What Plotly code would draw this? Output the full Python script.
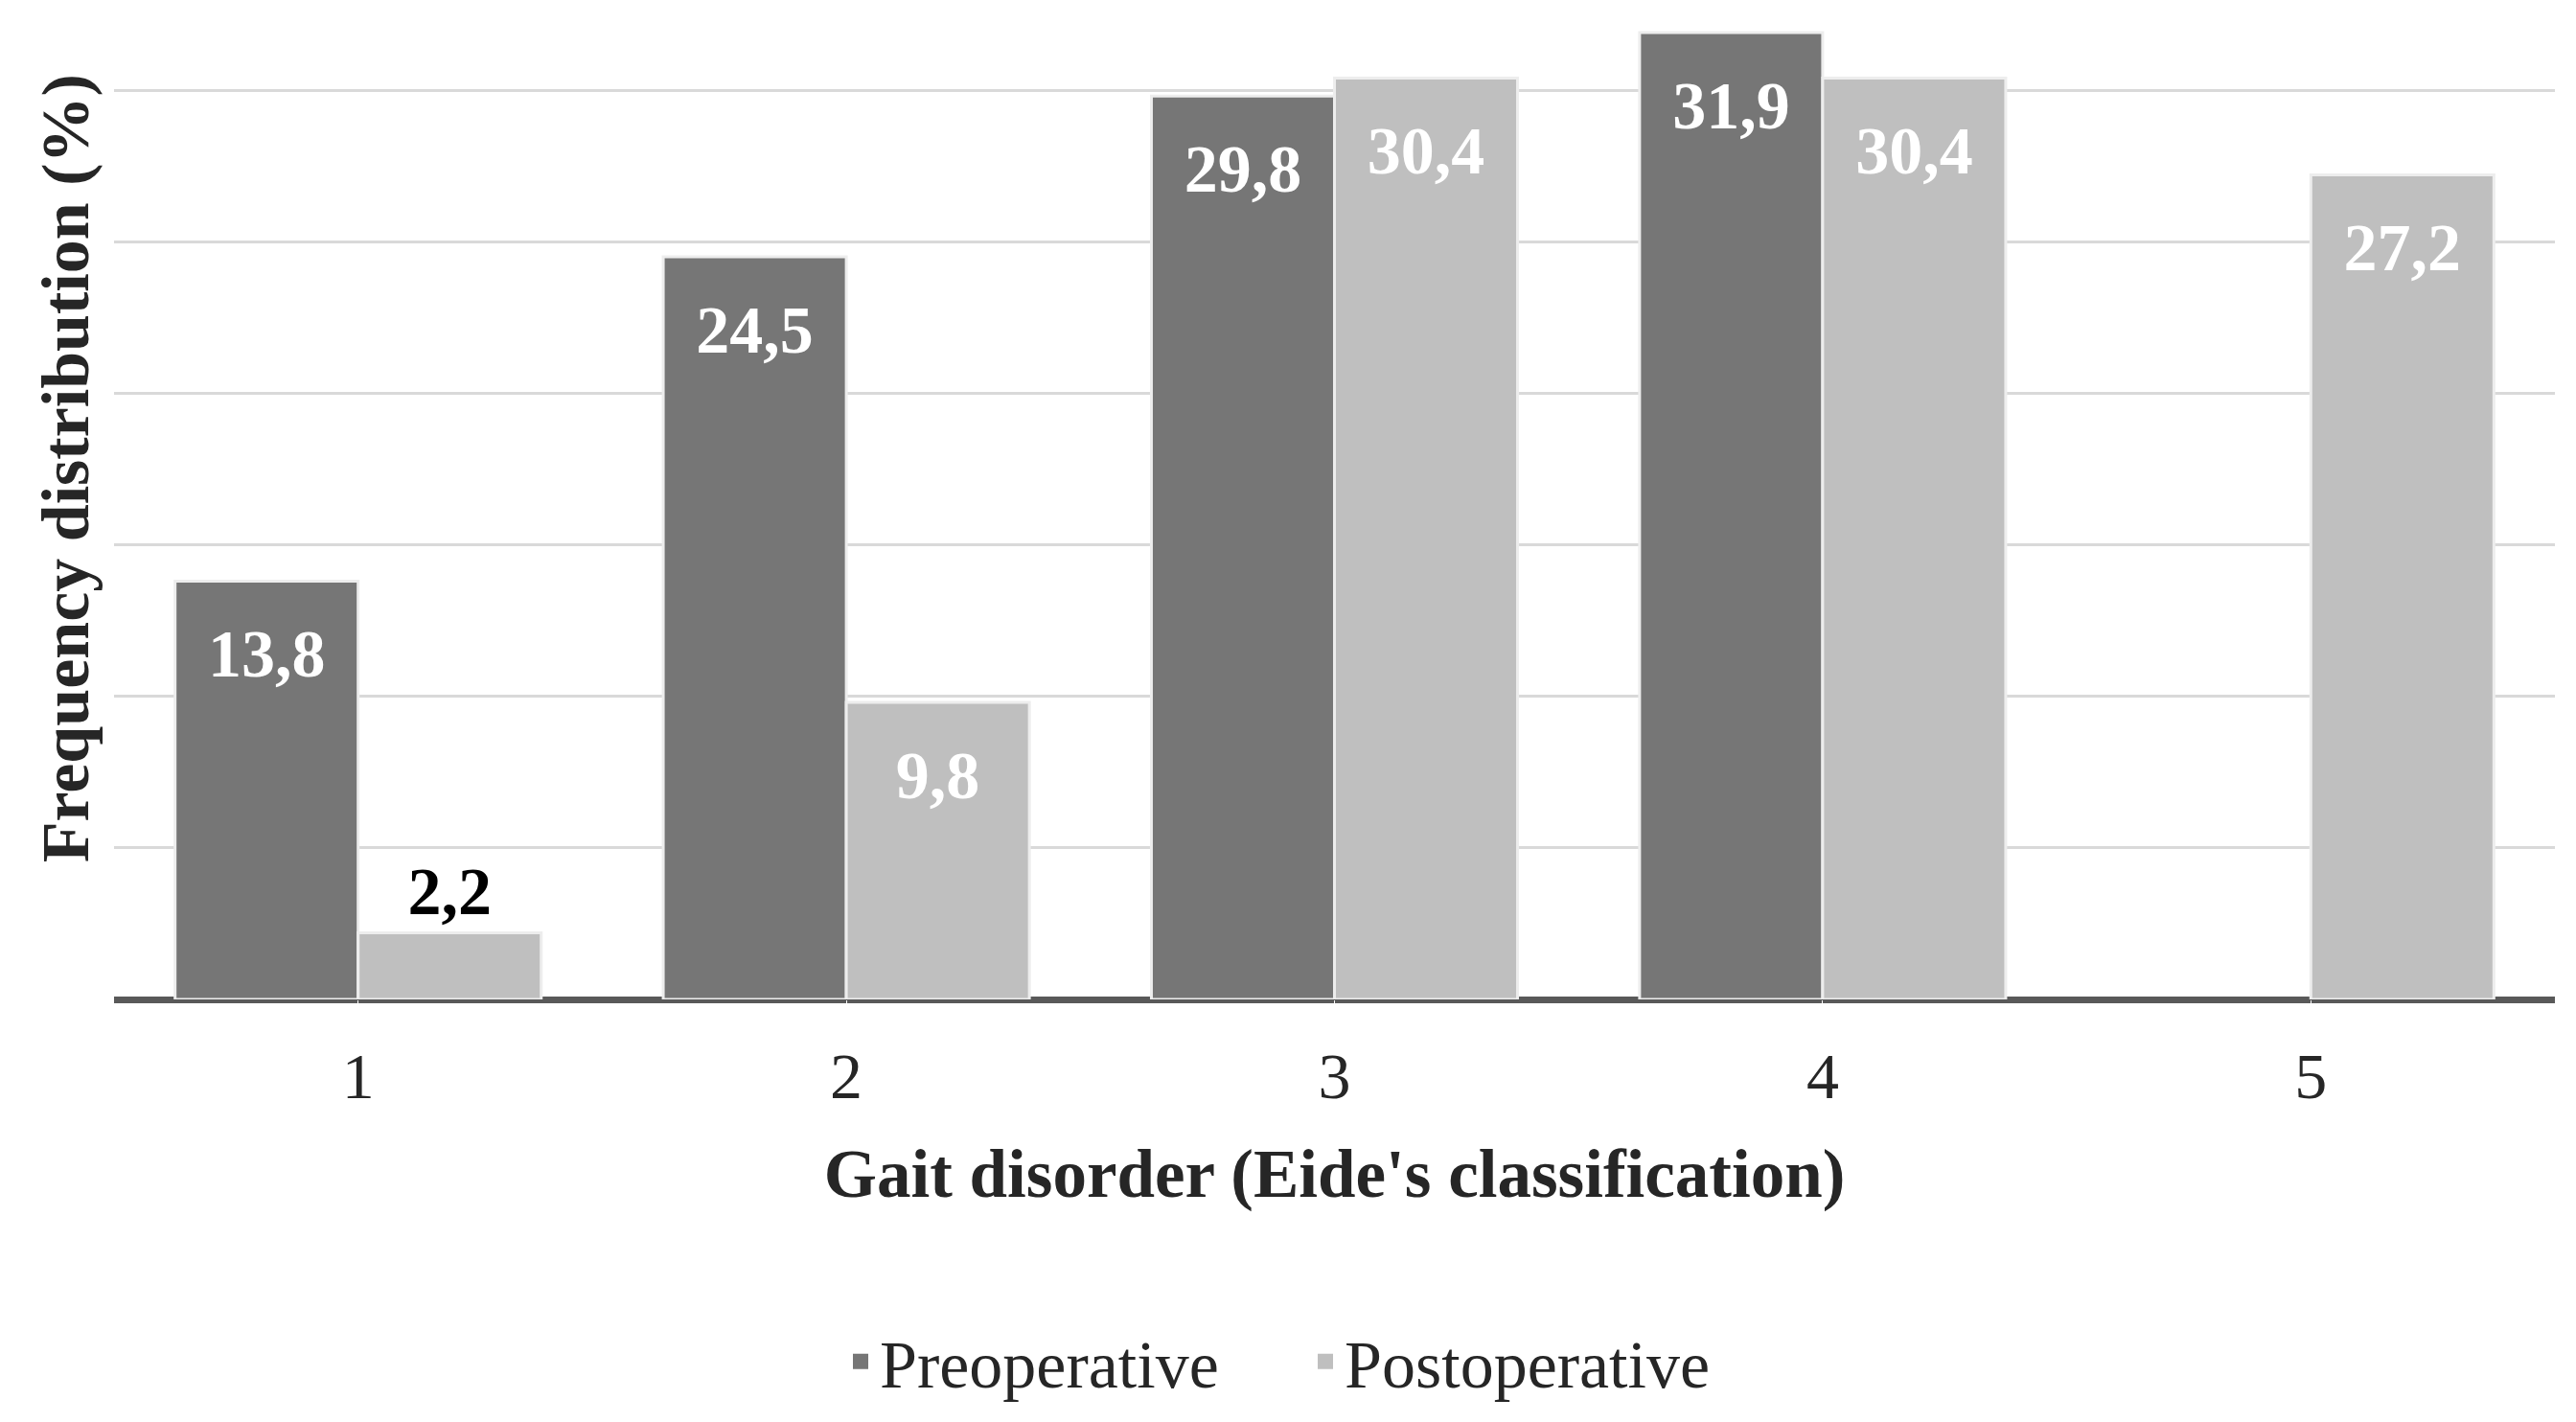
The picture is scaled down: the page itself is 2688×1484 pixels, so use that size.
import plotly.graph_objects as go

categories = ["1", "2", "3", "4", "5"]
preoperative = [13.8, 24.5, 29.8, 31.9, None]
postoperative = [2.2, 9.8, 30.4, 30.4, 27.2]
series_names = ["Preoperative", "Postoperative"]

DARK = "#767676"
LIGHT = "#bfbfbf"
FONT = "Liberation Serif"
TEXT = "#262626"

fig = go.Figure()

for name, values, color in zip(series_names, [preoperative, postoperative], [DARK, LIGHT]):
    fig.add_trace(go.Bar(
        x=categories, y=values, name=name, marker_color=color,
        marker_line=dict(color="#ededed", width=3),
        offsetgroup=name, showlegend=False,
    ))

# value labels: inside near the top (white), or above the bar if it is too short (black)
for name, values in zip(series_names, [preoperative, postoperative]):
    short = [v is not None and v < 5 for v in values]
    fig.add_trace(go.Scatter(
        x=categories, y=values, mode="markers+text", offsetgroup=name,
        text=[None if v is None else f"{v:.1f}".replace(".", ",") for v in values],
        textposition=["top center" if s else "bottom center" for s in short],
        textfont=dict(family=FONT, size=70, weight="bold",
                      color=["black" if s else "white" for s in short]),
        marker=dict(size=[2 if s else 74 for s in short], opacity=0),
        showlegend=False, hoverinfo="skip", cliponaxis=False,
    ))

# legend entries with bigger square swatches
for name, color in zip(series_names, [DARK, LIGHT]):
    fig.add_trace(go.Scatter(
        x=[None], y=[None], mode="markers", name=name, offsetgroup=name,
        marker=dict(symbol="square", size=16, color=color),
    ))

fig.update_layout(
    width=2688,
    height=1484,
    plot_bgcolor="white",
    paper_bgcolor="white",
    barmode="group",
    bargap=0.25,
    bargroupgap=0.0,
    scattermode="group",
    scattergap=0.25,
    margin=dict(l=111, r=30, t=0, b=449),
    font=dict(family=FONT, size=68, color=TEXT),
    legend=dict(
        orientation="h", x=0.298, xanchor="left", y=-0.365, yanchor="middle",
        font=dict(family=FONT, size=70, color=TEXT),
        itemwidth=30, entrywidth=440, itemsizing="trace",
    ),
    annotations=[dict(
        text="Frequency distribution (%)", textangle=-90,
        xref="paper", yref="paper", x=-0.020, y=0.535,
        xanchor="center", yanchor="middle", showarrow=False,
        font=dict(family=FONT, size=70, weight="bold", color=TEXT),
    )],
)

fig.update_xaxes(
    showgrid=False, ticks="outside", ticklen=20, tickcolor="white",
    tickfont=dict(family=FONT, size=68, color=TEXT),
    title=dict(text="Gait disorder (Eide's classification)",
               font=dict(family=FONT, size=71, weight="bold", color=TEXT),
               standoff=39),
)
fig.update_yaxes(
    range=[0, 32.72], dtick=5, showticklabels=False,
    showgrid=True, gridcolor="#d9d9d9", gridwidth=3,
    zeroline=True, zerolinecolor="#595959", zerolinewidth=7,
)

fig.write_html("out.html")
